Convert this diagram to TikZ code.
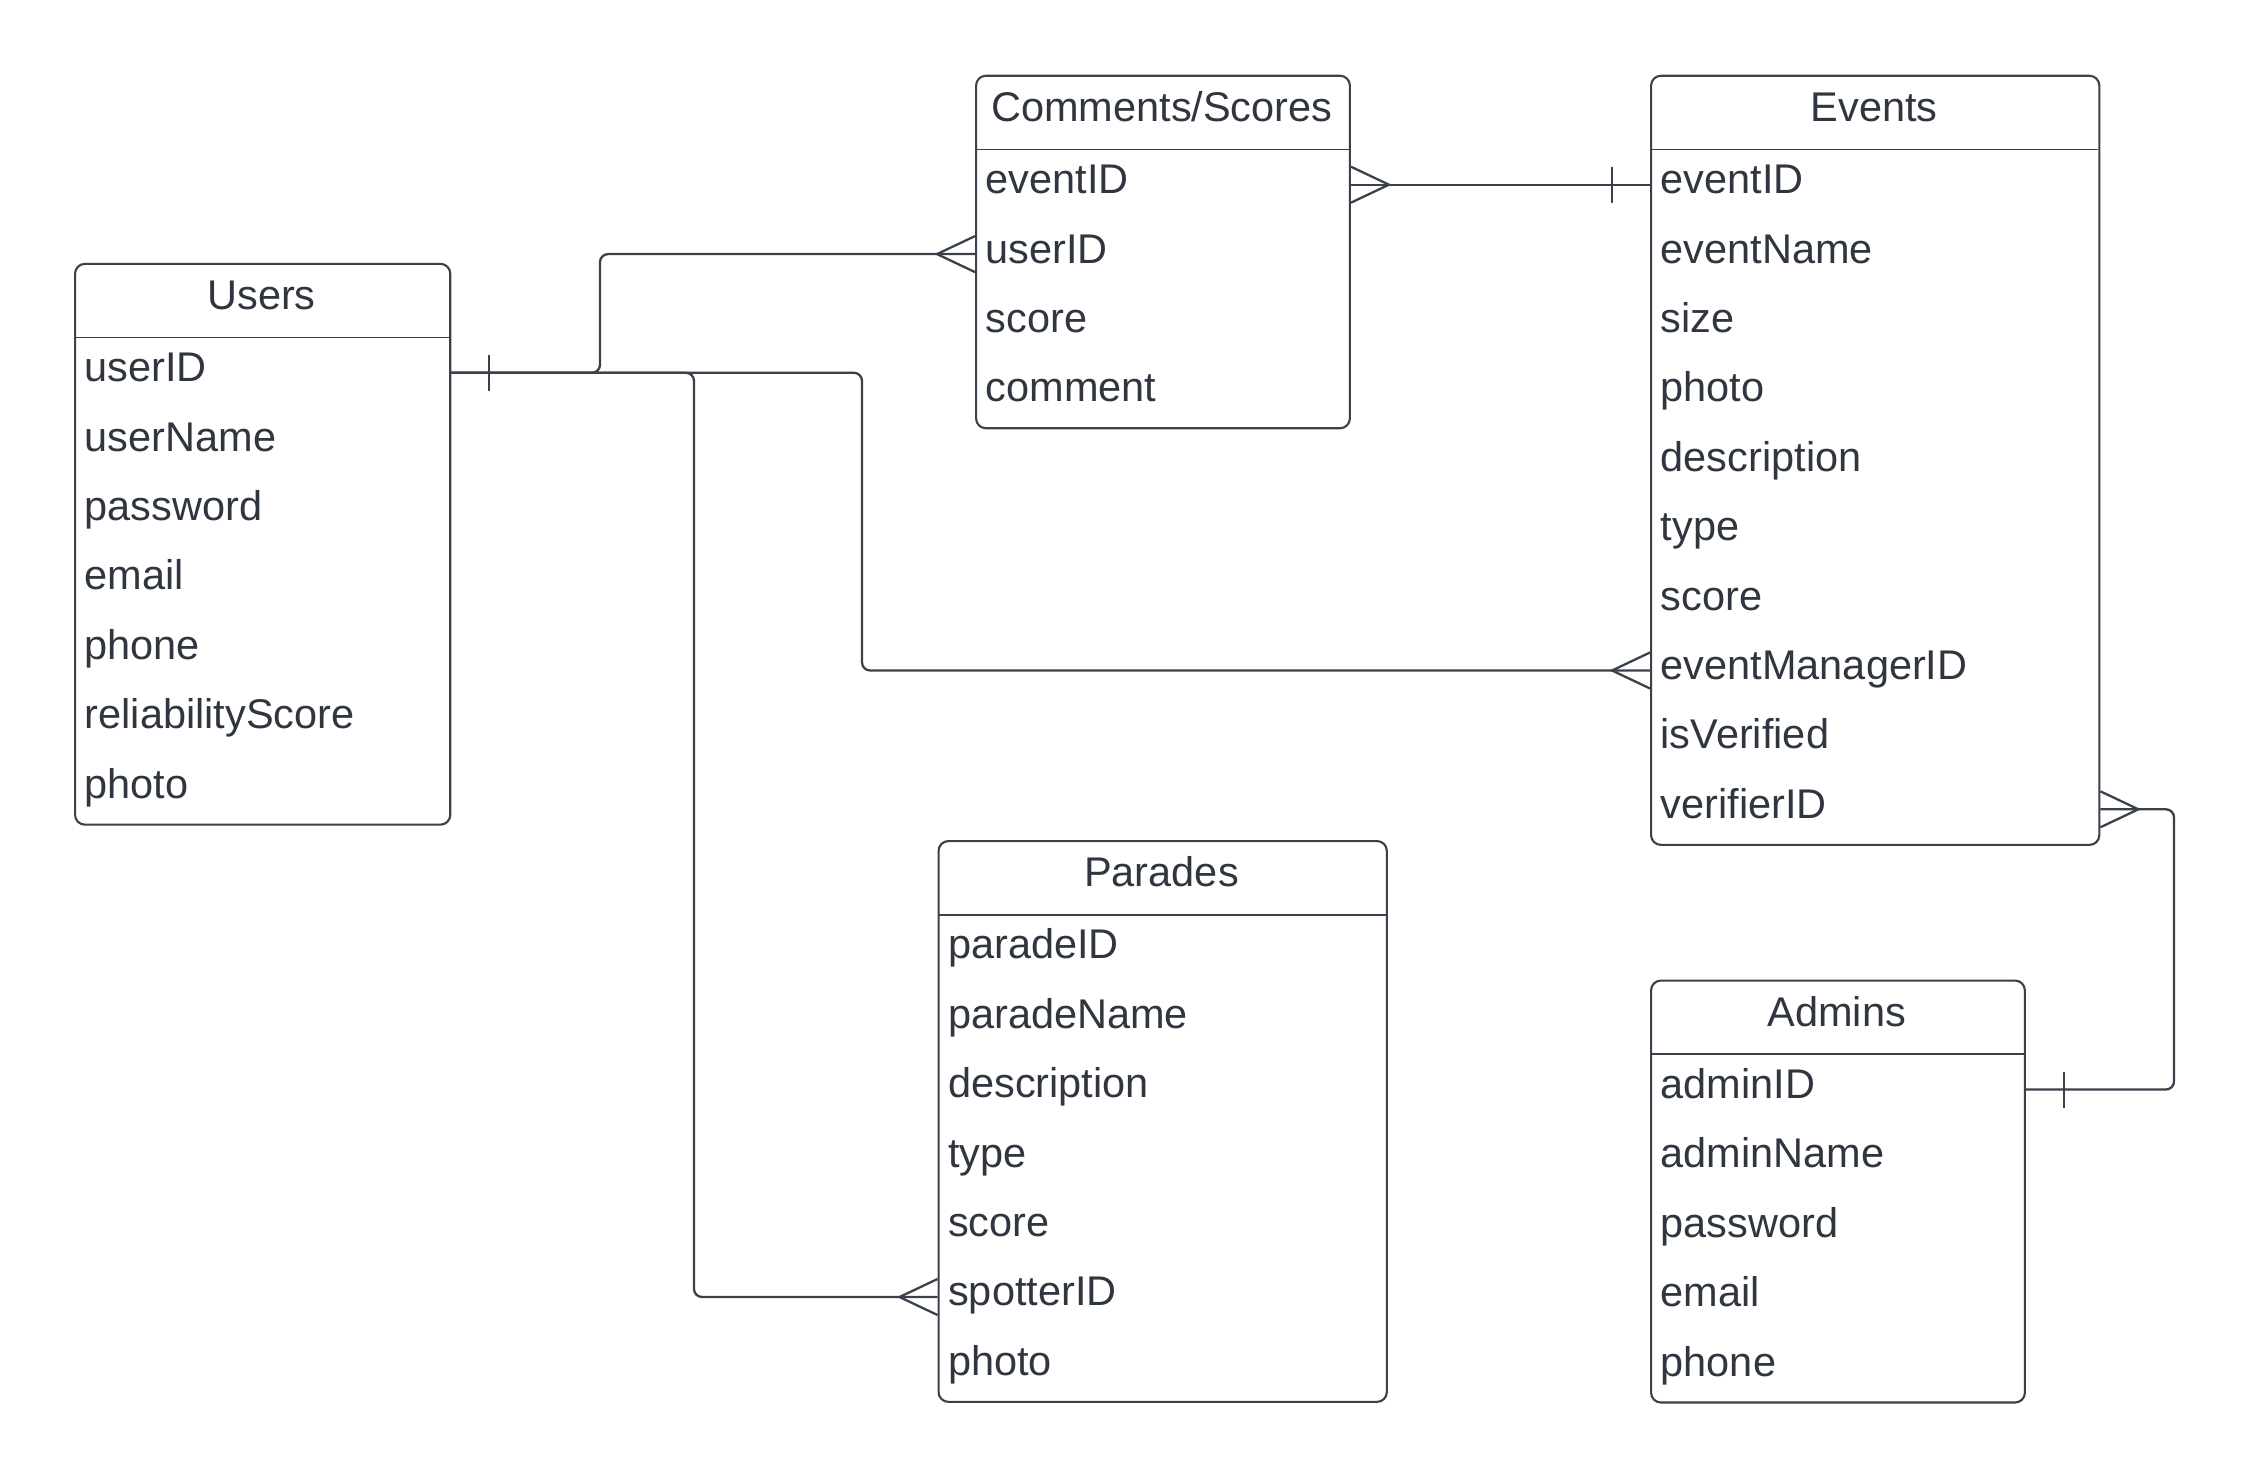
\documentclass[tikz,border=0pt]{standalone}
\usepackage{fontspec}
\setmainfont{Liberation Sans}
\definecolor{erline}{RGB}{58,65,74}
\definecolor{ertext}{RGB}{48,54,63}
\tikzset{
  entity/.style={draw=erline, line width=0.6pt, rounded corners=2.8pt, anchor=north west, inner sep=0pt},
  etitle/.style={anchor=base, text=ertext, font=\fontsize{11.8}{14}\selectfont, inner sep=0pt, yshift=-0.9pt},
  field/.style={anchor=base west, text=ertext, font=\fontsize{11.8}{14}\selectfont, inner sep=0pt, text height=8.5pt, text depth=3.4pt, yshift=-0.5pt},
  sepline/.style={draw=erline, line width=0.5pt},
  rel/.style={draw=erline, line width=0.65pt, rounded corners=2.3pt},
  ermark/.style={draw=erline, line width=0.65pt}
}
\begin{document}
\begin{tikzpicture}[x=0.01cm, y=-0.01cm]
    \useasboundingbox (0,0) rectangle (2252,1476);
    % Users table
    \node[entity, minimum width=3.75cm, minimum height=5.605cm] (users) at (74,262.8) {};
    \node[etitle] (users-title) at (261.5,306.3) {Users};
    \draw[sepline] (74,337.5) -- (449,337.5);
    \node[field] (users-1) at (84,380) {userID};
    \node[field] (users-2) at (84,449.4) {userName};
    \node[field] (users-3) at (84,518.8) {password};
    \node[field] (users-4) at (84,588.2) {email};
    \node[field] (users-5) at (84,657.6) {phone};
    \node[field] (users-6) at (84,727) {reliabilityScore};
    \node[field] (users-7) at (84,796.4) {photo};
    % Comments/Scores table
    \node[entity, minimum width=3.736cm, minimum height=3.523cm] (comments) at (975,74.7) {};
    \node[etitle] (comments-title) at (1161.8,118.2) {Comments/Scores};
    \draw[sepline] (975,149.4) -- (1348.6,149.4);
    \node[field] (comments-1) at (985,191.9) {eventID};
    \node[field] (comments-2) at (985,261.3) {userID};
    \node[field] (comments-3) at (985,330.7) {score};
    \node[field] (comments-4) at (985,400.1) {comment};
    % Events table
    \node[entity, minimum width=4.48cm, minimum height=7.687cm] (events) at (1650,74.7) {};
    \node[etitle] (events-title) at (1874,118.2) {Events};
    \draw[sepline] (1650,149.4) -- (2098,149.4);
    \node[field] (events-1) at (1660,191.9) {eventID};
    \node[field] (events-2) at (1660,261.3) {eventName};
    \node[field] (events-3) at (1660,330.7) {size};
    \node[field] (events-4) at (1660,400.1) {photo};
    \node[field] (events-5) at (1660,469.5) {description};
    \node[field] (events-6) at (1660,538.9) {type};
    \node[field] (events-7) at (1660,608.3) {score};
    \node[field] (events-8) at (1660,677.7) {eventManagerID};
    \node[field] (events-9) at (1660,747.1) {isVerified};
    \node[field] (events-10) at (1660,816.5) {verifierID};
    % Parades table
    \node[entity, minimum width=4.48cm, minimum height=5.605cm] (parades) at (937.5,840) {};
    \node[etitle] (parades-title) at (1161.5,883.5) {Parades};
    \draw[sepline] (937.5,914.7) -- (1385.5,914.7);
    \node[field] (parades-1) at (947.5,957.2) {paradeID};
    \node[field] (parades-2) at (947.5,1026.6) {paradeName};
    \node[field] (parades-3) at (947.5,1096) {description};
    \node[field] (parades-4) at (947.5,1165.4) {type};
    \node[field] (parades-5) at (947.5,1234.8) {score};
    \node[field] (parades-6) at (947.5,1304.2) {spotterID};
    \node[field] (parades-7) at (947.5,1373.6) {photo};
    % Admins table
    \node[entity, minimum width=3.736cm, minimum height=4.217cm] (admins) at (1650,979.5) {};
    \node[etitle] (admins-title) at (1836.8,1023) {Admins};
    \draw[sepline] (1650,1054.2) -- (2023.6,1054.2);
    \node[field] (admins-1) at (1660,1096.7) {adminID};
    \node[field] (admins-2) at (1660,1166.1) {adminName};
    \node[field] (admins-3) at (1660,1235.5) {password};
    \node[field] (admins-4) at (1660,1304.9) {email};
    \node[field] (admins-5) at (1660,1374.3) {phone};
    % bend points of the connectors
    \coordinate (bendC) at (600,0);
    \coordinate (bendP) at (694,0);
    \coordinate (bendE) at (862,0);
    \coordinate (bendA) at (2174,0);
    % Users -- Comments/Scores
    \draw[rel] (users.east |- users-1) -| (bendC |- comments-2) -- (comments.west |- comments-2);
    % Users -- Events
    \draw[rel] (users.east |- users-1) -| (bendE |- events-8) -- (events.west |- events-8);
    % Users -- Parades
    \draw[rel] (users.east |- users-1) -| (bendP |- parades-6) -- (parades.west |- parades-6);
    % Comments/Scores -- Events
    \draw[rel] (comments.east |- comments-1) -- (events.west |- events-1);
    % Events -- Admins
    \draw[rel] (events.east |- events-10) -| (bendA |- admins-1) -- (admins.east |- admins-1);
    % one ends
    \draw[ermark] (users.east |- users-1) ++(38,-18) -- ++(0,36);
    \draw[ermark] (events.west |- events-1) ++(-38,-18) -- ++(0,36);
    \draw[ermark] (admins.east |- admins-1) ++(38,-18) -- ++(0,36);
    % many ends
    \draw[ermark] (comments.west |- comments-2) ++(0,-18) -- ++(-38,18) -- ++(38,18);
    \draw[ermark] (events.west |- events-8) ++(0,-18) -- ++(-38,18) -- ++(38,18);
    \draw[ermark] (parades.west |- parades-6) ++(0,-18) -- ++(-38,18) -- ++(38,18);
    \draw[ermark] (comments.east |- comments-1) ++(0,-18) -- ++(38,18) -- ++(-38,18);
    \draw[ermark] (events.east |- events-10) ++(0,-18) -- ++(38,18) -- ++(-38,18);
\end{tikzpicture}
\end{document}
